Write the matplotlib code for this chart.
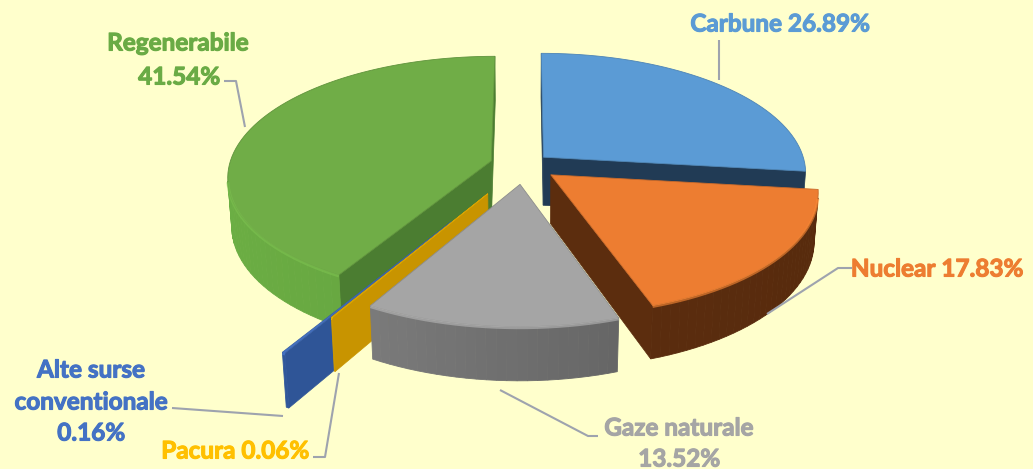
import matplotlib.pyplot as plt
import matplotlib.patheffects as pe
import numpy as np
from matplotlib.patches import Polygon

# =========================
# data
# =========================
names = ["Carbune", "Nuclear", "Gaze naturale", "Pacura", "Alte surse conventionale", "Regenerabile"]
shares = [26.89, 17.83, 13.52, 0.06, 0.16, 41.54]
explode = [0.10, 0.13, 0.16, 0.27, 0.52, 0.13]

top_colors = ["#5B9BD5", "#ED7D31", "#A5A5A5", "#FFC000", "#4472C4", "#70AD47"]
wall_colors = ["#213B55", "#5C2D0E", "#6E6E6E", "#C89400", "#2F5597", "#64A23F"]
face_colors = ["#213B55", "#5C2D0E", "#6A6A6A", "#C89400", "#2F5597", "#4B7D31"]
label_colors = ["#5B9BD5", "#ED7D31", "#A5A5A5", "#FFC000", "#4472C4", "#6AAB45"]
draw_order = [0, 5, 4, 3, 1, 2]

BG = "#FFFFCC"
FONT = ["Lato", "DejaVu Sans"]

# =========================
# camera / projection
# =========================
ELEV = np.radians(27)
DIST = 7.0
THICK = 0.21
SCALE = 262 * DIST
CX, CY = 524, 165

cam = np.array([0.0, -DIST * np.cos(ELEV), DIST * np.sin(ELEV)])
fwd = -cam / np.linalg.norm(cam)
right = np.array([1.0, 0.0, 0.0])
up = np.cross(right, fwd)


def project(p):
    v = np.asarray(p) - cam
    d = v @ fwd
    return np.column_stack([CX + SCALE * (v @ right) / d, CY - SCALE * (v @ up) / d])


def direction(theta):
    return np.array([np.sin(theta), np.cos(theta), 0.0])


def shade(color, k):
    c = np.array(plt.matplotlib.colors.to_rgb(color))
    return tuple(np.clip(c * k, 0, 1))


def draw_slice(ax, a0, a1, off, top_c, wall_c, face_c, grad):
    n = max(int(np.degrees(a1 - a0) / 2) + 2, 2)
    th = np.linspace(a0, a1, n)
    base = np.array([off[0], off[1], 0.0])
    rim_top = np.array([base + direction(t) for t in th])
    rim_bot = rim_top - np.array([0, 0, THICK])
    apex_top = base
    apex_bot = base - np.array([0, 0, THICK])

    # radial faces
    for ang, sign, idx in [(a0, -1, 0), (a1, 1, -1)]:
        normal = sign * np.array([np.cos(ang), -np.sin(ang), 0.0])
        quad = np.array([apex_top, rim_top[idx], rim_bot[idx], apex_bot])
        if normal @ (cam - quad.mean(axis=0)) > 0:
            ax.add_patch(Polygon(project(quad), closed=True, fc=face_c, ec=face_c, lw=0.5))

    # outer wall
    front = []
    for k in range(n - 1):
        tm = 0.5 * (th[k] + th[k + 1])
        normal = direction(tm)
        quad = np.array([rim_top[k], rim_top[k + 1], rim_bot[k + 1], rim_bot[k]])
        if normal @ (cam - quad.mean(axis=0)) > 0:
            k_light = 1.0 + grad * 0.5 * (-np.sin(tm))
            c = shade(wall_c, k_light)
            ax.add_patch(Polygon(project(quad), closed=True, fc=c, ec=c, lw=0.6))
            front.append(k)

    # top
    top = np.vstack([apex_top, rim_top])
    ax.add_patch(Polygon(project(top), closed=True, fc=top_c, ec=shade(top_c, 0.85), lw=0.6))

    # soft rim highlight along the visible front edge
    if front:
        idx = list(range(front[0], front[-1] + 2))
        rim = project(rim_top[idx] - np.array([0, 0, 0.004]))
        ax.plot(rim[:, 0], rim[:, 1], color=shade(top_c, 1.12), lw=2.0, alpha=0.6,
                solid_capstyle="butt")


fig = plt.figure(figsize=(10.33, 4.69), dpi=100, facecolor=BG)
ax = fig.add_axes([0, 0, 1, 1])
ax.set_facecolor(BG)
ax.set_xlim(0, 1033)
ax.set_ylim(469, 0)
ax.axis("off")

fractions = np.array(shares) / np.sum(shares)
starts = np.concatenate([[0], np.cumsum(fractions)[:-1]]) * 2 * np.pi
ends = np.cumsum(fractions) * 2 * np.pi
gradients = [0.1, 0.1, 0.45, 0.1, 0.1, 0.15]

for i in draw_order:
    mid = 0.5 * (starts[i] + ends[i])
    off = explode[i] * direction(mid)
    draw_slice(ax, starts[i], ends[i], off, top_colors[i], wall_colors[i], face_colors[i], gradients[i])

# =========================
# labels and leader lines
# =========================
line_c = "#9EA3AE"
leaders = [
    [(719, 40), (719, 80)],
    [(852, 268), (838, 268), (767, 314)],
    [(598, 436), (588, 436), (500, 390)],
    [(313, 457), (325, 457), (339, 373)],
    [(172, 408), (283, 416)],
    [(224, 81), (236, 81), (245, 127)],
]
for pts in leaders:
    xs, ys = zip(*pts)
    ax.plot(xs, ys, color=line_c, lw=1.5, solid_capstyle="butt")

texts = [
    (780, 24, "Carbune 26.89%"),
    (937, 269, "Nuclear 17.83%"),
    (679, 428, "Gaze naturale"),
    (679, 459, "13.52%"),
    (235, 451, "Pacura 0.06%"),
    (91, 370, "Alte surse"),
    (91, 402, "conventionale"),
    (91, 433, "0.16%"),
    (178, 43, "Regenerabile"),
    (179, 77, "41.54%"),
]
tcolor = [0, 1, 2, 2, 3, 4, 4, 4, 5, 5]
for (x, y, s), ci in zip(texts, tcolor):
    ax.text(x, y, s, ha="center", va="center", fontsize=17.5, fontweight="bold",
            color=label_colors[ci], family=FONT,
            path_effects=[pe.withStroke(linewidth=0.8, foreground=label_colors[ci])])

fig.savefig("out.png", dpi=100, facecolor=BG)
